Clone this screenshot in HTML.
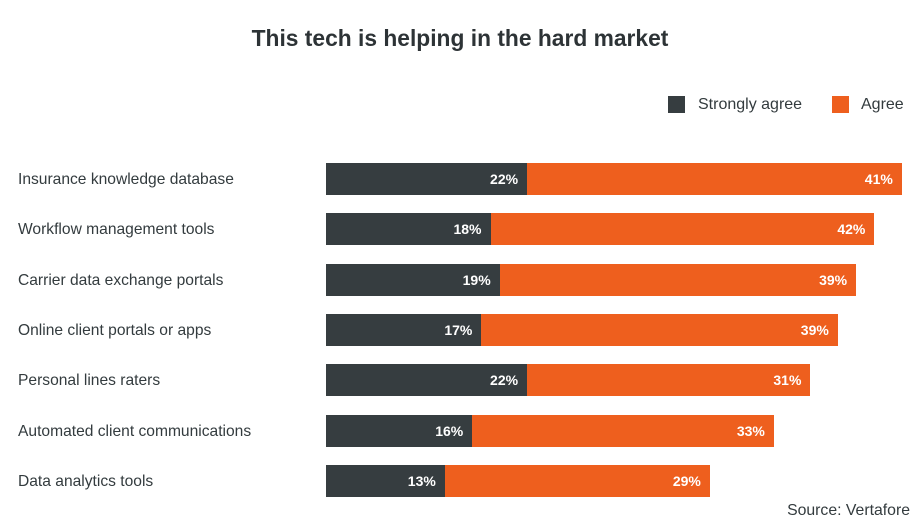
<!DOCTYPE html>
<html><head><meta charset="utf-8"><style>
body{margin:0;width:920px;height:526px;background:#fff;position:relative;font-family:"Liberation Sans",sans-serif;color:#333b3e;overflow:hidden}
.a{position:absolute;white-space:nowrap}
.t{left:0;width:920px;text-align:center;top:25px;font-size:22.8px;font-weight:bold;color:#2d3336}
.lab{left:18px;font-size:15.6px;color:#333b3e}
.d{position:absolute;height:32px;background:#363d40}
.o{position:absolute;height:32px;background:#ee5f1e}
.v{position:absolute;top:0;line-height:32px;color:#fff;font-weight:bold;font-size:14px;right:9px}
</style></head><body>
<div class="a t">This tech is helping in the hard market</div>
<div class="a" style="left:668px;top:96px;width:17px;height:17px;background:#363d40"></div>
<div class="a" style="left:698px;top:96px;font-size:16px;line-height:18px">Strongly agree</div>
<div class="a" style="left:832px;top:96px;width:17px;height:17px;background:#ee5f1e"></div>
<div class="a" style="left:861px;top:96px;font-size:16px;line-height:18px">Agree</div>
<div id="c"></div>
<div class="a" style="right:10px;top:502px;font-size:15.8px">Source: Vertafore</div>
<script>
var d=[["Insurance knowledge database",22,41],["Workflow management tools",18,42],["Carrier data exchange portals",19,39],["Online client portals or apps",17,39],["Personal lines raters",22,31],["Automated client communications",16,33],["Data analytics tools",13,29]];
var h="",k=9.14;
d.forEach(function(r,i){var y=163+i*50.3;var w1=r[1]*k,w2=r[2]*k;
h+='<div class="a lab" style="top:'+(y+8)+'px">'+r[0]+'</div>';
h+='<div class="d" style="left:326px;top:'+y+'px;width:'+w1+'px"><span class="v">'+r[1]+'%</span></div>';
h+='<div class="o" style="left:'+(326+w1)+'px;top:'+y+'px;width:'+w2+'px"><span class="v">'+r[2]+'%</span></div>';});
document.getElementById("c").innerHTML=h;
</script>
</body></html>
